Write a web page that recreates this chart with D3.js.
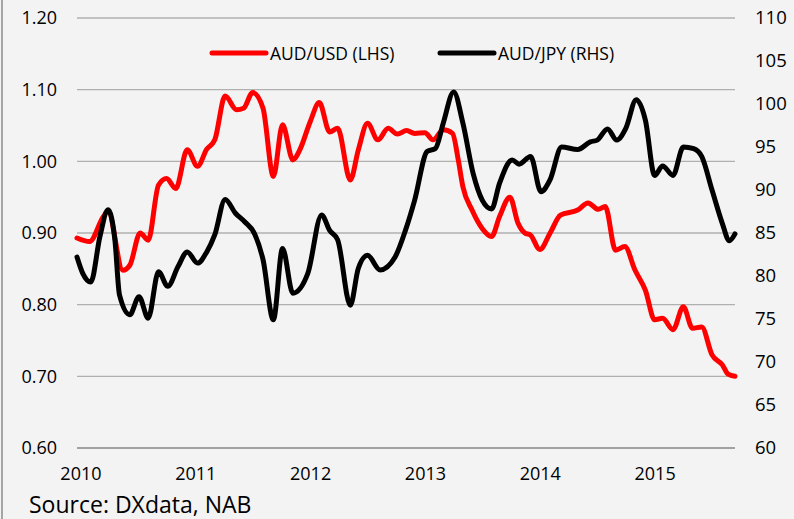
<!DOCTYPE html>
<html>
<head>
<meta charset="utf-8">
<script src="https://cdn.jsdelivr.net/npm/d3@7"></script>
<style>
  body { margin: 0; background: #f3f3f3; }
  svg { display: block; font-family: "Open Sans", "Noto Sans", sans-serif; }
</style>
</head>
<body>
<svg id="chart" width="794" height="519"></svg>
<script>
// AUD/USD (left axis) - decimal year, value
var usdYears = [2009.97, 2010.08, 2010.20, 2010.24, 2010.37, 2010.43, 2010.52, 2010.59, 2010.68, 2010.75,
  2010.83, 2010.93, 2011.02, 2011.10, 2011.17, 2011.26, 2011.36, 2011.42, 2011.50, 2011.59,
  2011.68, 2011.76, 2011.85, 2011.91, 2012.00, 2012.08, 2012.17, 2012.24, 2012.35, 2012.42,
  2012.50, 2012.59, 2012.68, 2012.76, 2012.84, 2012.91, 2013.00, 2013.07, 2013.16, 2013.24,
  2013.29, 2013.33, 2013.41, 2013.50, 2013.58, 2013.65, 2013.74, 2013.81, 2013.87, 2013.92,
  2014.00, 2014.09, 2014.18, 2014.33, 2014.42, 2014.51, 2014.57, 2014.66, 2014.74, 2014.83,
  2014.92, 2015.00, 2015.07, 2015.16, 2015.25, 2015.33, 2015.41, 2015.50, 2015.59, 2015.64, 2015.70];
var usdValues = [0.893, 0.888, 0.923, 0.930, 0.848, 0.855, 0.900, 0.890, 0.967, 0.976,
  0.962, 1.016, 0.993, 1.017, 1.030, 1.091, 1.072, 1.074, 1.096, 1.074,
  0.979, 1.051, 1.002, 1.016, 1.055, 1.082, 1.041, 1.046, 0.974, 1.016,
  1.053, 1.030, 1.046, 1.038, 1.043, 1.039, 1.040, 1.030, 1.044, 1.039,
  1.002, 0.965, 0.932, 0.906, 0.895, 0.923, 0.950, 0.914, 0.900, 0.897,
  0.877, 0.900, 0.925, 0.932, 0.942, 0.933, 0.937, 0.876, 0.881, 0.848,
  0.820, 0.779, 0.781, 0.765, 0.797, 0.767, 0.769, 0.730, 0.716, 0.703, 0.700];

// AUD/JPY (right axis)
var jpyYears = [2009.97, 2010.02, 2010.09, 2010.17, 2010.24, 2010.30, 2010.34, 2010.43, 2010.51, 2010.59,
  2010.68, 2010.76, 2010.85, 2010.93, 2011.02, 2011.10, 2011.17, 2011.26, 2011.35, 2011.43,
  2011.52, 2011.59, 2011.68, 2011.76, 2011.85, 2011.98, 2012.10, 2012.17, 2012.24, 2012.35,
  2012.42, 2012.50, 2012.61, 2012.74, 2012.83, 2012.91, 2013.02, 2013.09, 2013.16, 2013.25,
  2013.33, 2013.42, 2013.50, 2013.58, 2013.65, 2013.76, 2013.82, 2013.92, 2014.01, 2014.09,
  2014.19, 2014.33, 2014.44, 2014.50, 2014.59, 2014.67, 2014.75, 2014.84, 2014.92, 2015.00,
  2015.07, 2015.16, 2015.25, 2015.34, 2015.41, 2015.50, 2015.59, 2015.65, 2015.70];
var jpyValues = [82.2, 80.3, 79.3, 84.6, 87.7, 84.2, 77.8, 75.5, 77.6, 75.1,
  80.5, 78.8, 81.1, 82.8, 81.5, 82.8, 84.8, 88.9, 87.3, 86.3,
  84.8, 81.9, 74.9, 83.2, 78.0, 80.3, 87.1, 85.3, 84.2, 76.6,
  80.9, 82.4, 80.7, 82.2, 85.3, 88.8, 94.5, 94.8, 97.8, 101.4,
  97.8, 91.9, 88.8, 87.8, 90.8, 93.5, 93.0, 93.9, 89.8, 91.2,
  95.0, 94.7, 95.6, 95.8, 97.1, 95.8, 97.2, 100.5, 98.1, 91.7,
  92.8, 91.7, 95.0, 94.8, 93.9, 90.0, 86.1, 84.1, 84.9];

var leftTicks = [0.6, 0.7, 0.8, 0.9, 1.0, 1.1, 1.2];
var rightTicks = [60, 65, 70, 75, 80, 85, 90, 95, 100, 105, 110];
var yearLabels = [2010, 2011, 2012, 2013, 2014, 2015];

var plot = {left: 77, right: 735, top: 18, bottom: 448};

var svg = d3.select("#chart");

// left frame line
svg.append("line")
  .attr("x1", 2).attr("x2", 2).attr("y1", 0).attr("y2", 519)
  .attr("stroke", "#a5a5a5").attr("stroke-width", 2);

var x = d3.scaleLinear().domain([2009.97, 2015.70]).range([plot.left, plot.right]);
var yL = d3.scaleLinear().domain([0.6, 1.2]).range([plot.bottom, plot.top]);
var yR = d3.scaleLinear().domain([60, 110]).range([plot.bottom, plot.top]);

// gridlines
svg.append("g").selectAll("line")
  .data(leftTicks)
  .enter().append("line")
    .attr("x1", plot.left).attr("x2", plot.right)
    .attr("y1", function(d) { return yL(d); })
    .attr("y2", function(d) { return yL(d); })
    .attr("stroke", function(d) { return d === 0.6 ? "#868686" : "#b0b0b0"; })
    .attr("stroke-width", 1.3);

// left axis labels
var leftAxis = d3.axisLeft(yL).tickValues(leftTicks).tickFormat(d3.format(".2f")).tickSize(0).tickPadding(0);
svg.append("g")
  .attr("transform", "translate(57,0)")
  .call(leftAxis)
  .call(function(g) { g.select(".domain").remove(); })
  .selectAll("text")
    .attr("font-family", "Open Sans").attr("font-size", "18px").attr("fill", "#000");

// right axis labels
var rightAxis = d3.axisRight(yR).tickValues(rightTicks).tickSize(0).tickPadding(0);
svg.append("g")
  .attr("transform", "translate(755,0)")
  .call(rightAxis)
  .call(function(g) { g.select(".domain").remove(); })
  .selectAll("text")
    .attr("font-family", "Open Sans").attr("font-size", "18.5px").attr("fill", "#000");

// x labels
var xAxis = d3.axisBottom(x).tickValues(yearLabels).tickFormat(d3.format("d")).tickSize(0).tickPadding(0);
svg.append("g")
  .attr("transform", "translate(0,467)")
  .call(xAxis)
  .call(function(g) { g.select(".domain").remove(); })
  .selectAll("text")
    .attr("font-family", "Open Sans").attr("font-size", "18px").attr("fill", "#000");

// lines
var usdData = usdYears.map(function(d, i) { return [d, usdValues[i]]; });
var jpyData = jpyYears.map(function(d, i) { return [d, jpyValues[i]]; });

var lineL = d3.line().curve(d3.curveMonotoneX)
  .x(function(d) { return x(d[0]); }).y(function(d) { return yL(d[1]); });
var lineR = d3.line().curve(d3.curveMonotoneX)
  .x(function(d) { return x(d[0]); }).y(function(d) { return yR(d[1]); });

svg.append("path").datum(usdData)
  .attr("d", lineL).attr("fill", "none")
  .attr("stroke", "#ff0000").attr("stroke-width", 5)
  .attr("stroke-linejoin", "round").attr("stroke-linecap", "round");

svg.append("path").datum(jpyData)
  .attr("d", lineR).attr("fill", "none")
  .attr("stroke", "#000000").attr("stroke-width", 5)
  .attr("stroke-linejoin", "round").attr("stroke-linecap", "round");

// legend
var legendItems = [
  {name: "AUD/USD (LHS)", colour: "#ff0000", x: 212},
  {name: "AUD/JPY (RHS)", colour: "#000000", x: 440}
];
var legend = svg.append("g").attr("transform", "translate(0,53)");
legendItems.forEach(function(d) {
  legend.append("line")
    .attr("x1", d.x).attr("x2", d.x + 54).attr("y1", 0).attr("y2", 0)
    .attr("stroke", d.colour).attr("stroke-width", 5).attr("stroke-linecap", "round");
  legend.append("text")
    .attr("x", d.x + 58).attr("y", 6.5)
    .attr("font-size", "17.5px").attr("fill", "#000")
    .text(d.name);
});

// source
svg.append("text")
  .attr("x", 29).attr("y", 513)
  .attr("font-size", "23px").attr("fill", "#000")
  .text("Source: DXdata, NAB");
</script>
</body>
</html>
